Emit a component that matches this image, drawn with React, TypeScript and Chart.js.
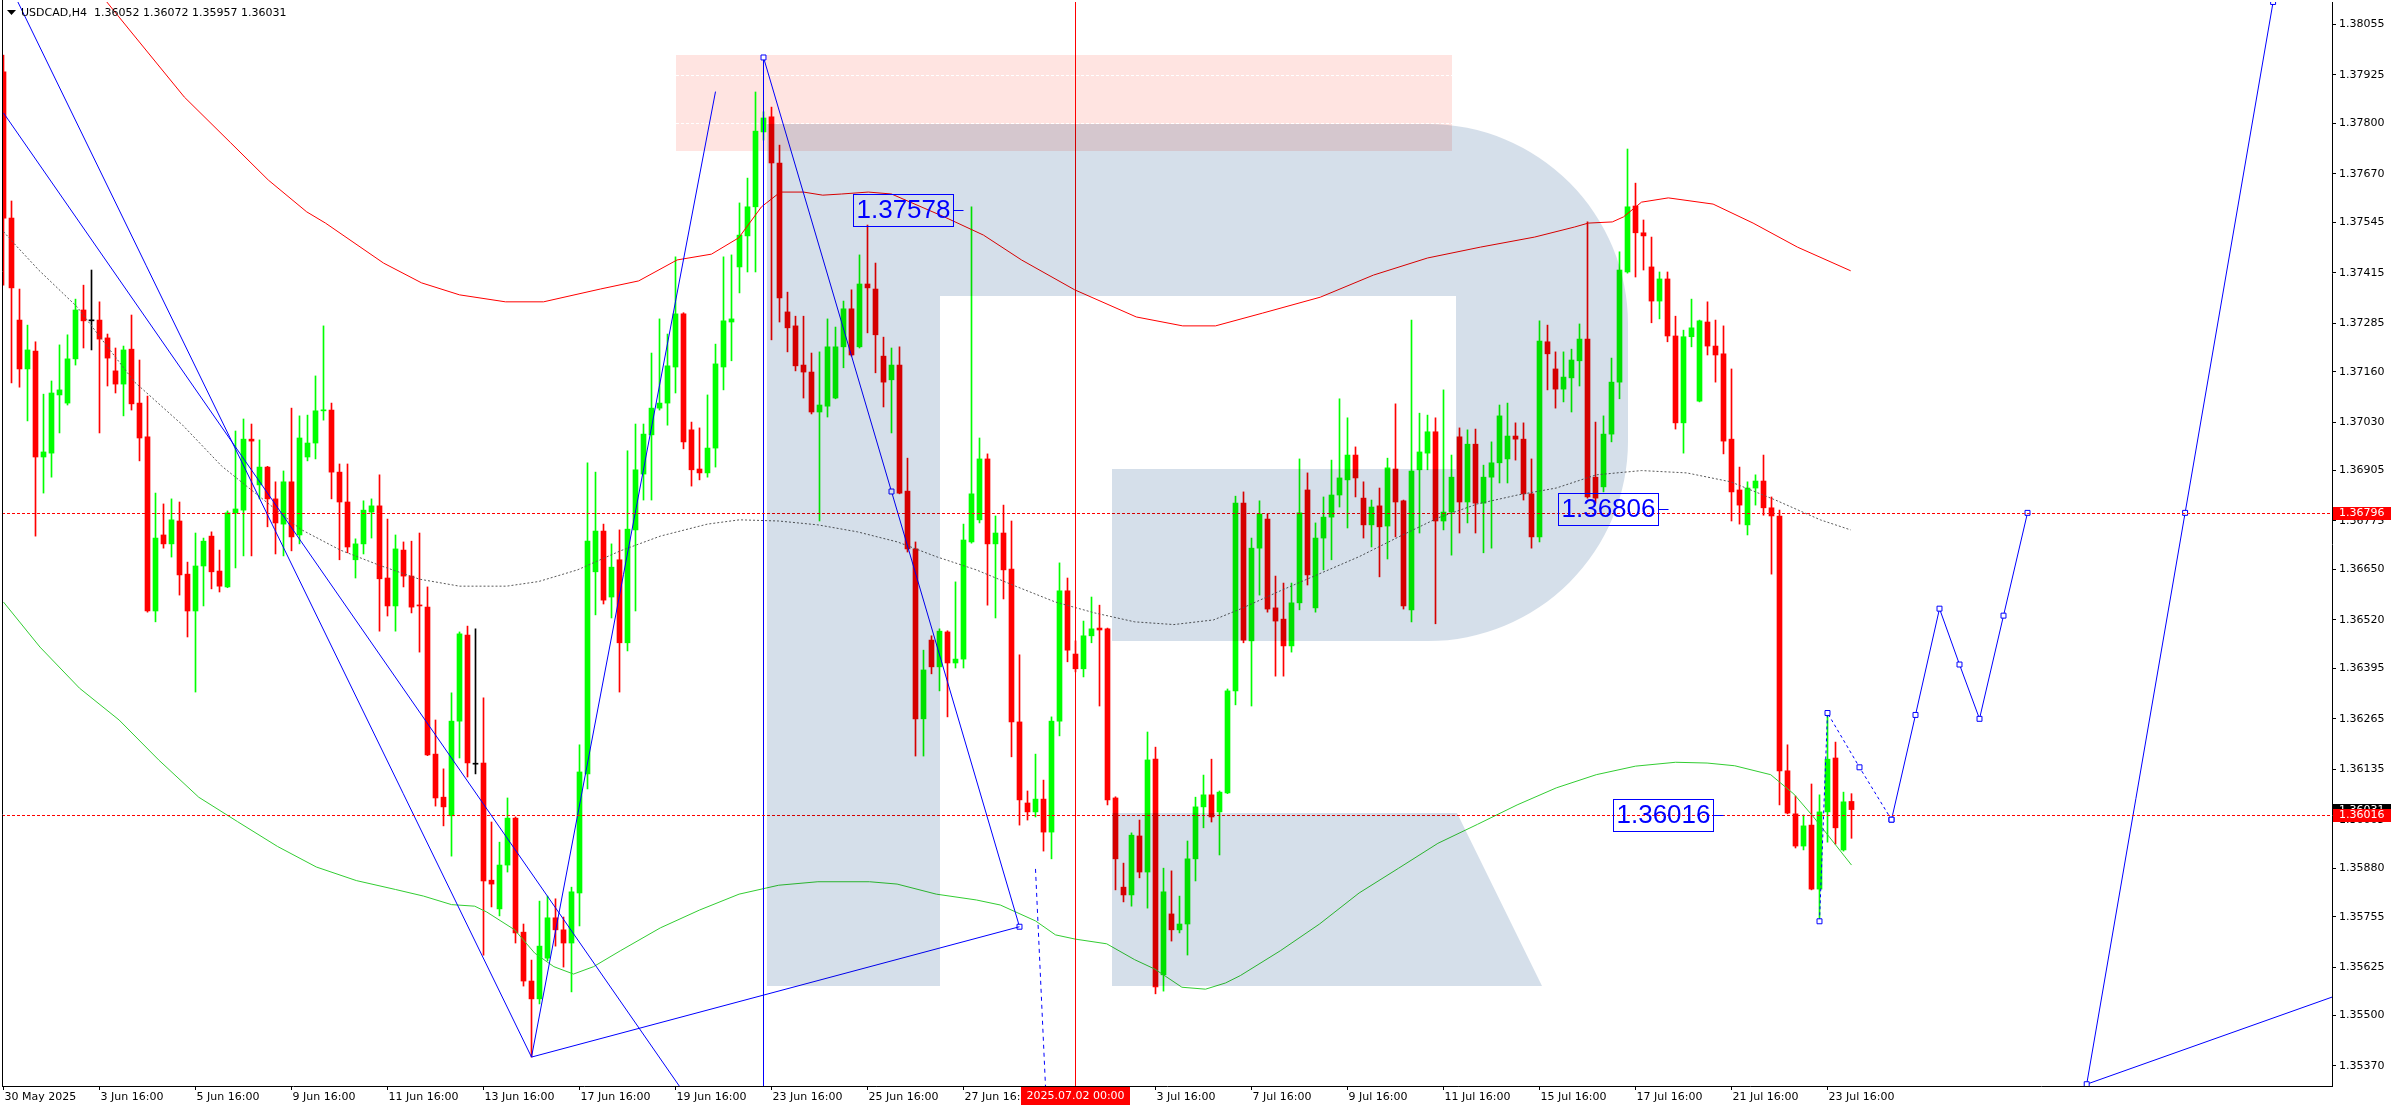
import React, { useEffect, useRef } from "react";
import { Chart, registerables } from "chart.js";

Chart.register(...registerables);

// ---------------- DATA ----------------
const SYMBOL = "USDCAD,H4";

// H4 candles, index 0 = 30 May 2025 16:00
const candleOpen = [
  1.37933, 1.37556, 1.37293, 1.37167, 1.37213, 1.36940, 1.36950, 1.37100, 1.37079, 1.37193,
  1.37319, 1.37291, 1.37293, 1.37247, 1.37162, 1.37128, 1.37218, 1.37079, 1.36992, 1.36543,
  1.36739, 1.36716, 1.36775, 1.36638, 1.36543, 1.36659, 1.36736, 1.36646, 1.36605, 1.36796,
  1.36803, 1.36986, 1.36868, 1.36914, 1.36832, 1.36767, 1.36876, 1.36739, 1.36940, 1.36976,
  1.37059, 1.37061, 1.36901, 1.36824, 1.36675, 1.36716, 1.36798, 1.36814, 1.36628, 1.36556,
  1.36700, 1.36633, 1.36558, 1.36553, 1.36174, 1.36063, 1.36015, 1.36259, 1.36481, 1.36148,
  1.36151, 1.35849, 1.35775, 1.35888, 1.36009, 1.35715, 1.35589, 1.35543, 1.35648, 1.35752,
  1.35721, 1.35687, 1.35816, 1.36123, 1.36644, 1.36749, 1.36579, 1.36675, 1.36461, 1.36752,
  1.36896, 1.36997, 1.37066, 1.37079, 1.37172, 1.37309, 1.37010, 1.36909, 1.36899, 1.36963,
  1.37172, 1.37288, 1.37430, 1.37510, 1.37585, 1.37778, 1.37817, 1.37698, 1.37314, 1.37278,
  1.37177, 1.37159, 1.37056, 1.37071, 1.37092, 1.37224, 1.37322, 1.37224, 1.37386, 1.37373,
  1.37200, 1.37139, 1.37177, 1.36852, 1.36703, 1.36265, 1.36468, 1.36399, 1.36489, 1.36409,
  1.36419, 1.36721, 1.36778, 1.36935, 1.36716, 1.36744, 1.36651, 1.36257, 1.36048, 1.36025,
  1.36058, 1.35973, 1.36259, 1.36595, 1.36432, 1.36394, 1.36479, 1.36499, 1.36497, 1.36061,
  1.35831, 1.35811, 1.35963, 1.35870, 1.36161, 1.35605, 1.35762, 1.35721, 1.35736, 1.35904,
  1.36038, 1.36069, 1.36025, 1.36074, 1.36337, 1.36821, 1.36466, 1.36705, 1.36780, 1.36551,
  1.36522, 1.36453, 1.36564, 1.36855, 1.36551, 1.36731, 1.36785, 1.36842, 1.36881, 1.36945,
  1.36834, 1.36765, 1.36814, 1.36762, 1.36909, 1.36827, 1.36546, 1.36907, 1.36950, 1.37005,
  1.36775, 1.36798, 1.36992, 1.36824, 1.36973, 1.36821, 1.36888, 1.36925, 1.36935, 1.36994,
  1.36986, 1.36845, 1.36734, 1.37237, 1.37167, 1.37115, 1.37144, 1.37188, 1.37244, 1.36888,
  1.36863, 1.36999, 1.37133, 1.37417, 1.37587, 1.37518, 1.37430, 1.37342, 1.37399, 1.37252,
  1.37028, 1.37250, 1.37084, 1.37288, 1.37226, 1.37206, 1.36986, 1.36855, 1.36765, 1.36860,
  1.36878, 1.36809, 1.36788, 1.36131, 1.36020, 1.35937, 1.35991, 1.35826, 1.36025, 1.36164,
  1.35927, 1.36052,
];
const candleHigh = [
  1.37976, 1.37600, 1.37373, 1.37280, 1.37237, 1.37102, 1.37136, 1.37229, 1.37255, 1.37347,
  1.37383, 1.37422, 1.37340, 1.37257, 1.37221, 1.37226, 1.37306, 1.37190, 1.37097, 1.36847,
  1.36819, 1.36832, 1.36824, 1.36669, 1.36744, 1.36731, 1.36747, 1.36700, 1.36801, 1.37007,
  1.37038, 1.37025, 1.36984, 1.36916, 1.36876, 1.36904, 1.37066, 1.37046, 1.37048, 1.37149,
  1.37278, 1.37079, 1.36922, 1.36922, 1.36729, 1.36827, 1.36832, 1.36894, 1.36780, 1.36739,
  1.36721, 1.36723, 1.36744, 1.36605, 1.36262, 1.36136, 1.36332, 1.36489, 1.36504, 1.36497,
  1.36319, 1.35999, 1.35947, 1.36061, 1.36012, 1.35736, 1.35643, 1.35795, 1.35808, 1.35801,
  1.35754, 1.35831, 1.36198, 1.36925, 1.36901, 1.36767, 1.36716, 1.36752, 1.36956, 1.37025,
  1.37025, 1.37208, 1.37296, 1.37257, 1.37456, 1.37312, 1.37030, 1.37015, 1.37100, 1.37231,
  1.37456, 1.37461, 1.37595, 1.37659, 1.37881, 1.37830, 1.37842, 1.37744, 1.37365, 1.37303,
  1.37303, 1.37208, 1.37211, 1.37296, 1.37275, 1.37342, 1.37371, 1.37461, 1.37538, 1.37440,
  1.37249, 1.37221, 1.37224, 1.36937, 1.36721, 1.36442, 1.36479, 1.36497, 1.36492, 1.36618,
  1.36767, 1.37585, 1.36989, 1.36948, 1.36788, 1.36816, 1.36775, 1.36430, 1.36079, 1.36174,
  1.36107, 1.36270, 1.36667, 1.36628, 1.36466, 1.36517, 1.36579, 1.36558, 1.36499, 1.36064,
  1.35893, 1.35971, 1.36004, 1.36231, 1.36192, 1.35880, 1.35873, 1.35808, 1.35950, 1.36063,
  1.36120, 1.36161, 1.36079, 1.36342, 1.36839, 1.36850, 1.36731, 1.36827, 1.36793, 1.36633,
  1.36615, 1.36615, 1.36935, 1.36899, 1.36770, 1.36837, 1.36932, 1.37090, 1.37041, 1.36966,
  1.36876, 1.36829, 1.36860, 1.36937, 1.37077, 1.36829, 1.37293, 1.37053, 1.37048, 1.37041,
  1.37113, 1.36945, 1.37015, 1.37010, 1.37012, 1.36919, 1.36979, 1.37074, 1.37079, 1.37028,
  1.37028, 1.36935, 1.37291, 1.37280, 1.37211, 1.37211, 1.37218, 1.37283, 1.37546, 1.37030,
  1.37046, 1.37195, 1.37469, 1.37734, 1.37646, 1.37551, 1.37507, 1.37417, 1.37417, 1.37303,
  1.37267, 1.37347, 1.37293, 1.37340, 1.37293, 1.37278, 1.37167, 1.36914, 1.36876, 1.36894,
  1.36945, 1.36837, 1.36803, 1.36198, 1.36066, 1.36017, 1.36097, 1.36069, 1.36280, 1.36205,
  1.36076, 1.36072,
];
const candleLow = [
  1.37383, 1.37131, 1.37120, 1.37033, 1.36736, 1.36847, 1.36888, 1.37002, 1.37074, 1.37177,
  1.37221, 1.37216, 1.37002, 1.37123, 1.37105, 1.37046, 1.37061, 1.36930, 1.36540, 1.36515,
  1.36705, 1.36682, 1.36584, 1.36476, 1.36334, 1.36556, 1.36600, 1.36592, 1.36603, 1.36654,
  1.36685, 1.36685, 1.36832, 1.36760, 1.36690, 1.36685, 1.36698, 1.36716, 1.36930, 1.36935,
  1.37035, 1.36832, 1.36675, 1.36693, 1.36628, 1.36690, 1.36731, 1.36491, 1.36530, 1.36491,
  1.36605, 1.36538, 1.36437, 1.36170, 1.36040, 1.35989, 1.35911, 1.36164, 1.36115, 1.36123,
  1.35656, 1.35780, 1.35757, 1.35870, 1.35687, 1.35576, 1.35393, 1.35530, 1.35641, 1.35679,
  1.35625, 1.35561, 1.35731, 1.36084, 1.36533, 1.36561, 1.36525, 1.36334, 1.36440, 1.36543,
  1.36829, 1.36829, 1.37061, 1.37022, 1.37105, 1.36961, 1.36865, 1.36881, 1.36888, 1.36914,
  1.37113, 1.37188, 1.37363, 1.37417, 1.37417, 1.37757, 1.37242, 1.37288, 1.37211, 1.37162,
  1.37092, 1.37051, 1.36775, 1.37043, 1.37090, 1.37170, 1.37200, 1.37221, 1.37260, 1.37157,
  1.37069, 1.37002, 1.36845, 1.36695, 1.36169, 1.36169, 1.36381, 1.36337, 1.36270, 1.36396,
  1.36396, 1.36718, 1.36770, 1.36558, 1.36525, 1.36574, 1.36167, 1.35991, 1.36004, 1.36012,
  1.35924, 1.35904, 1.36221, 1.36412, 1.36386, 1.36373, 1.36461, 1.36298, 1.36043, 1.35824,
  1.35793, 1.35782, 1.35855, 1.35777, 1.35556, 1.35563, 1.35692, 1.35713, 1.35656, 1.35847,
  1.35984, 1.35999, 1.35914, 1.36072, 1.36301, 1.36461, 1.36298, 1.36584, 1.36540, 1.36375,
  1.36375, 1.36437, 1.36546, 1.36610, 1.36540, 1.36649, 1.36675, 1.36811, 1.36757, 1.36837,
  1.36731, 1.36708, 1.36631, 1.36677, 1.36734, 1.36548, 1.36515, 1.36744, 1.36907, 1.36510,
  1.36752, 1.36687, 1.36744, 1.36770, 1.36744, 1.36693, 1.36705, 1.36873, 1.36873, 1.36932,
  1.36829, 1.36705, 1.36721, 1.37113, 1.37066, 1.37082, 1.37056, 1.37123, 1.36834, 1.36821,
  1.36850, 1.36979, 1.37090, 1.37414, 1.37404, 1.37422, 1.37286, 1.37296, 1.37237, 1.37012,
  1.36950, 1.37224, 1.37082, 1.37203, 1.37133, 1.36948, 1.36775, 1.36767, 1.36739, 1.36816,
  1.36790, 1.36638, 1.36043, 1.36020, 1.35932, 1.35927, 1.35824, 1.35749, 1.35947, 1.35942,
  1.35924, 1.35957,
];
const candleClose = [
  1.37556, 1.37376, 1.37167, 1.37216, 1.36940, 1.36953, 1.37105, 1.37113, 1.37193, 1.37319,
  1.37291, 1.37291, 1.37244, 1.37195, 1.37128, 1.37216, 1.37077, 1.36989, 1.36543, 1.36731,
  1.36716, 1.36778, 1.36636, 1.36543, 1.36659, 1.36723, 1.36644, 1.36607, 1.36796, 1.36806,
  1.36986, 1.36981, 1.36914, 1.36832, 1.36770, 1.36876, 1.36734, 1.36989, 1.36976, 1.37059,
  1.37061, 1.36901, 1.36824, 1.36708, 1.36716, 1.36803, 1.36814, 1.36626, 1.36556, 1.36703,
  1.36633, 1.36553, 1.36556, 1.36172, 1.36061, 1.36038, 1.36259, 1.36484, 1.36151, 1.36148,
  1.35847, 1.35839, 1.35888, 1.36009, 1.35713, 1.35589, 1.35543, 1.35679, 1.35752, 1.35721,
  1.35687, 1.35819, 1.36128, 1.36723, 1.36749, 1.36571, 1.36656, 1.36461, 1.36754, 1.36907,
  1.36999, 1.37066, 1.37079, 1.37175, 1.37309, 1.36979, 1.36907, 1.36899, 1.36963, 1.37180,
  1.37291, 1.37296, 1.37512, 1.37585, 1.37780, 1.37814, 1.37698, 1.37350, 1.37273, 1.37175,
  1.37159, 1.37056, 1.37074, 1.37224, 1.37224, 1.37322, 1.37203, 1.37386, 1.37376, 1.37255,
  1.37133, 1.37177, 1.36847, 1.36703, 1.36265, 1.36391, 1.36399, 1.36491, 1.36409, 1.36419,
  1.36726, 1.36845, 1.36935, 1.36716, 1.36744, 1.36649, 1.36257, 1.36056, 1.36025, 1.36058,
  1.35973, 1.36259, 1.36595, 1.36442, 1.36394, 1.36479, 1.36497, 1.36494, 1.36056, 1.35904,
  1.35811, 1.35965, 1.35870, 1.36159, 1.35574, 1.35819, 1.35721, 1.35736, 1.35904, 1.36038,
  1.36069, 1.36012, 1.36076, 1.36337, 1.36821, 1.36468, 1.36705, 1.36793, 1.36548, 1.36517,
  1.36453, 1.36564, 1.36796, 1.36636, 1.36731, 1.36785, 1.36842, 1.36886, 1.36945, 1.36886,
  1.36765, 1.36811, 1.36760, 1.36912, 1.36824, 1.36556, 1.36904, 1.36953, 1.37005, 1.36775,
  1.36798, 1.36888, 1.36824, 1.36973, 1.36821, 1.36888, 1.36925, 1.37046, 1.36994, 1.36986,
  1.36845, 1.36734, 1.37239, 1.37206, 1.37115, 1.37146, 1.37190, 1.37244, 1.36837, 1.36834,
  1.36999, 1.37133, 1.37422, 1.37585, 1.37518, 1.37510, 1.37342, 1.37399, 1.37252, 1.37028,
  1.37250, 1.37273, 1.37291, 1.37226, 1.37203, 1.36981, 1.36850, 1.36816, 1.36860, 1.36878,
  1.36809, 1.36788, 1.36131, 1.36022, 1.35937, 1.35989, 1.35826, 1.36025, 1.36161, 1.35984,
  1.36051, 1.36031,
];

const timeTickIndex = [0, 12, 24, 36, 48, 60, 72, 84, 96, 108, 120, 132, 144, 156, 168, 180, 192, 204, 216, 228];
const timeTickLabels = [
  "30 May 2025", "3 Jun 16:00", "5 Jun 16:00", "9 Jun 16:00", "11 Jun 16:00", "13 Jun 16:00",
  "17 Jun 16:00", "19 Jun 16:00", "23 Jun 16:00", "25 Jun 16:00", "27 Jun 16:00", "1 Jul 16:00",
  "3 Jul 16:00", "7 Jul 16:00", "9 Jul 16:00", "11 Jul 16:00", "15 Jul 16:00", "17 Jul 16:00",
  "21 Jul 16:00", "23 Jul 16:00",
];
const priceTicks = [
  1.38055, 1.37925, 1.378, 1.3767, 1.37545, 1.37415, 1.37285, 1.3716, 1.3703, 1.36905, 1.36775,
  1.3665, 1.3652, 1.36395, 1.36265, 1.36135, 1.36005, 1.3588, 1.35755, 1.35625, 1.355, 1.3537,
];

// indicator bands [candle index, price]
const upperBand = [
  [11.5, 1.38149], [15.75, 1.38041], [22.6, 1.37868], [28.4, 1.3775], [33.1, 1.37654], [37.9, 1.37572],
  [40.25, 1.37543], [47.5, 1.3744], [52.25, 1.37389], [57, 1.37358], [62.75, 1.3734], [67.5, 1.3734],
  [74.6, 1.37373], [79.4, 1.37394], [84.2, 1.37448], [88.5, 1.37463], [91.9, 1.37505], [94.75, 1.37585],
  [97.1, 1.37623], [100, 1.37623], [102.4, 1.37615], [104.75, 1.37618], [108.1, 1.37623], [111, 1.37618],
  [117.6, 1.37559], [122.5, 1.37512], [127.25, 1.37448], [133.9, 1.37371], [141.6, 1.37301], [147.4, 1.37278],
  [151.5, 1.37278], [157.4, 1.37311], [164.6, 1.37352], [171.25, 1.37409], [178, 1.37453], [184.6, 1.37481],
  [191.4, 1.37507], [196.4, 1.37533], [198.1, 1.37543], [201.1, 1.37546], [202.5, 1.37559], [204.75, 1.37597],
  [208.1, 1.37608], [213.7, 1.37592], [218.7, 1.37543], [224.25, 1.37481], [230.9, 1.3742],
];
const middleBand = [
  [0, 1.37521], [1.25, 1.37492], [4.4, 1.37422], [9.2, 1.37327], [13, 1.37224], [16.4, 1.37133],
  [22.4, 1.37022], [27.25, 1.36917], [32.25, 1.36834], [37.2, 1.36753], [42.1, 1.367], [47.1, 1.3666],
  [52, 1.36625], [57, 1.36607], [62.9, 1.36607], [66.9, 1.36619], [71.75, 1.36649], [77.1, 1.36698],
  [82.1, 1.36736], [88, 1.36767], [92, 1.36778], [96.9, 1.36775], [101.8, 1.36765], [106.75, 1.36747],
  [111.75, 1.36721], [116.6, 1.36683], [121.6, 1.36649], [126.5, 1.36607], [131.5, 1.36566], [136.4, 1.36538],
  [141.4, 1.36515], [146.3, 1.36508], [151.25, 1.3652], [154.6, 1.36548], [159.6, 1.36595], [164.5, 1.36639],
  [169.45, 1.36683], [174.4, 1.36734], [179.3, 1.36783], [184.25, 1.36819], [189.25, 1.36842], [194.1, 1.3686],
  [199.1, 1.36894], [204.75, 1.36905], [210.4, 1.36899], [215.9, 1.36876], [221.5, 1.36829], [227.1, 1.36778],
  [230.9, 1.36752],
];
const lowerBand = [
  [0, 1.36566], [4.56, 1.3645], [9.5, 1.36344], [14.45, 1.36262], [19.4, 1.36159], [24.4, 1.36063],
  [29.25, 1.36], [34.25, 1.35936], [39.1, 1.35883], [44.1, 1.35848], [49, 1.35825], [52.5, 1.35808],
  [56, 1.35786], [58.9, 1.35782], [60.4, 1.35767], [63.9, 1.35721], [66.4, 1.35661], [68.8, 1.35626],
  [71.25, 1.35607], [73.75, 1.35626], [77.1, 1.35667], [82.1, 1.35726], [87, 1.35772], [91.95, 1.35813],
  [96.9, 1.35836], [101.8, 1.35845], [108.25, 1.35845], [111.7, 1.35839], [116.6, 1.35813], [121.6, 1.35798],
  [124.6, 1.35785], [129, 1.35744], [131.5, 1.35708], [134, 1.35697], [137.9, 1.35685], [141.4, 1.35644],
  [143.9, 1.3562], [147.3, 1.35573], [150.25, 1.35568], [152.75, 1.35584], [154.6, 1.35603], [159.6, 1.35667],
  [164.5, 1.35736], [169.45, 1.35816], [174.4, 1.3588], [179.3, 1.35944], [184.25, 1.35993], [189.2, 1.36043],
  [194.1, 1.36087], [199.1, 1.36121], [204, 1.36143], [209, 1.36153], [212.95, 1.36151], [216.4, 1.36144],
  [220.9, 1.36121], [223.8, 1.36071], [226.25, 1.36012], [231, 1.35888],
];

// drawn objects
const levelLines = [1.36796, 1.36016];
const markerTime = { index: 134, label: "2025.07.02 00:00" };
const zoneBox = [84, 181, 1.37729, 1.37976]; // index from, index to, price low, price high
const trendA = [[1.8, 1.38113], [66, 1.35393]];
const trendB = [[0, 1.37827], [86, 1.35273]];
const trendC = [[66, 1.35393], [89, 1.37882]];
const trendD = [[66, 1.35393], [127, 1.35729]];
const waveDown = [[95, 1.3797], [111, 1.36851], [127, 1.35729]];
const peakVertical = [[95, 1.3797], [95, 1.3525]];
const dashedDrop = [[129, 1.35878], [130.4, 1.3525]];
const forecastDotted = [[227, 1.35743], [228, 1.3628], [232, 1.3614], [236, 1.36005]];
const forecastPath = [[236, 1.36005], [239, 1.36275], [242, 1.36549], [244.5, 1.36405], [247, 1.36265], [250, 1.36531], [253, 1.36796]];
const targetRay = [[260.4, 1.35323], [272.7, 1.36796], [283.7, 1.38113]];
const baseRay = [[260.4, 1.35323], [300, 1.35613]];
const priceNotes = [
  { text: "1.37578", index: 106.2, price: 1.37578 },
  { text: "1.36806", index: 194.3, price: 1.36806 },
  { text: "1.36016", index: 201.2, price: 1.36016 },
];

// ---------------- STYLE ----------------
const BULL = "#00ff00";
const BEAR = "#ff0000";
const DOJI = "#000000";
const BLUE = "#0000ff";
const LOGO = "#d5dfea";
const FONT = "'DejaVu Sans', 'Liberation Sans', sans-serif";
const X_MIN = -0.1875;
const X_MAX = 291.0625;
const Y_MIN = 1.353184;
const Y_MAX = 1.38113;

function candleColor(i: number) {
  const o = candleOpen[i];
  const c = candleClose[i];
  return c > o ? BULL : c < o ? BEAR : DOJI;
}

const toPts = (arr: number[][]) => arr.map(([x, y]) => ({ x, y }));

function lineDs(points: number[][], color: string, order: number, extra: any = {}) {
  return {
    type: "line",
    data: toPts(points),
    borderColor: color,
    borderWidth: 1,
    pointRadius: 0,
    pointHoverRadius: 0,
    fill: false,
    tension: 0,
    order,
    ...extra,
  };
}

const squares = {
  pointRadius: 3.5,
  pointStyle: "rect",
  pointBackgroundColor: "#ffffff",
  pointBorderColor: BLUE,
  pointBorderWidth: 1,
};

function drawLogo(ctx: CanvasRenderingContext2D) {
  ctx.beginPath();
  ctx.moveTo(767, 124);
  ctx.lineTo(1428, 124);
  ctx.arc(1428, 324, 200, -Math.PI / 2, 0);
  ctx.lineTo(1628, 441);
  ctx.arc(1428, 441, 200, 0, Math.PI / 2);
  ctx.lineTo(1112, 641);
  ctx.lineTo(1112, 469);
  ctx.lineTo(1456, 469);
  ctx.lineTo(1456, 296);
  ctx.lineTo(940, 296);
  ctx.lineTo(940, 986);
  ctx.lineTo(767, 986);
  ctx.closePath();
  ctx.moveTo(1112, 813);
  ctx.lineTo(1457, 813);
  ctx.lineTo(1542, 986);
  ctx.lineTo(1112, 986);
  ctx.closePath();
  ctx.fill();
}

const decorPlugin = {
  id: "mt4Decor",
  beforeDraw(chart: any) {
    const { ctx, width, height } = chart;
    ctx.save();
    ctx.fillStyle = "#ffffff";
    ctx.fillRect(0, 0, width, height);
    ctx.restore();
  },
  beforeDatasetsDraw(chart: any) {
    const { ctx, chartArea: a, scales } = chart;
    const xs = scales.x;
    const ys = scales.y;
    ctx.save();
    ctx.beginPath();
    ctx.rect(a.left, a.top, a.right - a.left, a.bottom - a.top);
    ctx.clip();
    const zx0 = Math.round(xs.getPixelForValue(zoneBox[0]));
    const zx1 = Math.round(xs.getPixelForValue(zoneBox[1]));
    const zy0 = Math.round(ys.getPixelForValue(zoneBox[3]));
    const zy1 = Math.round(ys.getPixelForValue(zoneBox[2]));
    ctx.fillStyle = "#ffe4e1";
    ctx.fillRect(zx0, zy0, zx1 - zx0, zy1 - zy0);
    ctx.strokeStyle = "#ffffff";
    ctx.lineWidth = 1;
    ctx.setLineDash([3, 2]);
    for (const t of priceTicks) {
      const py = Math.round(ys.getPixelForValue(t)) + 0.5;
      if (py > zy0 && py < zy1) {
        ctx.beginPath();
        ctx.moveTo(zx0, py);
        ctx.lineTo(zx1, py);
        ctx.stroke();
      }
    }
    ctx.restore();
  },
  afterDatasetsDraw(chart: any) {
    const { ctx, chartArea: a, scales } = chart;
    const xs = scales.x;
    const ys = scales.y;
    ctx.save();
    ctx.beginPath();
    ctx.rect(a.left, a.top, a.right - a.left, a.bottom - a.top);
    ctx.clip();
    // horizontal price levels (crisp, dashed)
    ctx.strokeStyle = "#ff0000";
    ctx.lineWidth = 1;
    ctx.setLineDash([3, 2]);
    for (const v of levelLines) {
      const py = Math.round(ys.getPixelForValue(v)) + 0.5;
      ctx.beginPath();
      ctx.moveTo(a.left, py);
      ctx.lineTo(a.right, py);
      ctx.stroke();
    }
    ctx.setLineDash([]);
    // watermark
    ctx.globalCompositeOperation = "multiply";
    ctx.fillStyle = LOGO;
    drawLogo(ctx);
    ctx.restore();

    ctx.save();
    for (const n of priceNotes) {
      const bx = Math.round(xs.getPixelForValue(n.index)) + 0.5;
      const cy = Math.round(ys.getPixelForValue(n.price));
      const w = 100;
      const h = 32;
      ctx.strokeStyle = BLUE;
      ctx.lineWidth = 1;
      ctx.strokeRect(bx, cy - 16 + 0.5, w, h);
      ctx.beginPath();
      ctx.moveTo(bx + w, cy + 0.5);
      ctx.lineTo(bx + w + 10, cy + 0.5);
      ctx.stroke();
      ctx.fillStyle = BLUE;
      ctx.font = "26px 'Liberation Sans', sans-serif";
      ctx.textAlign = "center";
      ctx.textBaseline = "middle";
      ctx.fillText(n.text, bx + w / 2, cy + 1);
    }
    ctx.restore();
  },
  afterDraw(chart: any) {
    const { ctx, chartArea: a, scales } = chart;
    const xs = scales.x;
    const ys = scales.y;
    const last = candleOpen.length - 1;
    ctx.save();
    ctx.strokeStyle = "#000";
    ctx.lineWidth = 1;
    ctx.beginPath();
    ctx.moveTo(a.left + 0.5, 0);
    ctx.lineTo(a.left + 0.5, a.bottom);
    ctx.stroke();

    // header
    ctx.fillStyle = "#000";
    ctx.beginPath();
    ctx.moveTo(7, 10);
    ctx.lineTo(16, 10);
    ctx.lineTo(11.5, 15);
    ctx.closePath();
    ctx.fill();
    ctx.font = `11px ${FONT}`;
    ctx.textAlign = "left";
    ctx.textBaseline = "middle";
    ctx.fillText(
      `${SYMBOL}  ${candleOpen[last].toFixed(5)} ${candleHigh[last].toFixed(5)} ${candleLow[last].toFixed(5)} ${candleClose[last].toFixed(5)}`,
      21,
      13
    );

    // price tags
    const tag = (v: number, bg: string) => {
      const py = Math.round(ys.getPixelForValue(v));
      ctx.fillStyle = bg;
      ctx.fillRect(a.right + 1, py - 6, 58, 13);
      ctx.fillStyle = "#fff";
      ctx.fillText(v.toFixed(5), a.right + 7, py + 0.5);
    };
    tag(candleClose[last], "#000");
    for (const v of levelLines) tag(v, "#ff0000");

    // time tag
    const cx = xs.getPixelForValue(markerTime.index);
    ctx.fillStyle = "#ff0000";
    ctx.fillRect(Math.round(cx - 54.5), a.bottom + 1, 109, 18);
    ctx.fillStyle = "#fff";
    ctx.textAlign = "center";
    ctx.fillText(markerTime.label, cx, a.bottom + 10.5);
    ctx.restore();
  },
};

export default function App() {
  const ref = useRef<HTMLCanvasElement>(null);

  useEffect(() => {
    document.body.style.margin = "0";
    document.body.style.overflow = "hidden";
    const canvas = ref.current;
    if (!canvas) return;
    const n = candleOpen.length;
    const idx = Array.from({ length: n }, (_, i) => i);
    const bodies = idx.map((i) => ({ x: i, y: [candleOpen[i], candleClose[i]] }));
    const wicks = idx.map((i) => ({ x: i, y: [candleLow[i], candleHigh[i]] }));
    const colors = idx.map(candleColor);

    const datasets: any[] = [
      lineDs(trendA, BLUE, 0),
      lineDs(trendB, BLUE, 0),
      lineDs(trendC, BLUE, 0),
      lineDs(trendD, BLUE, 0),
      lineDs(waveDown, BLUE, 0, squares),
      lineDs(peakVertical, BLUE, 0),
      lineDs(dashedDrop, BLUE, 0, { borderDash: [4, 4] }),
      lineDs(forecastDotted, BLUE, 0, { ...squares, borderDash: [3, 3] }),
      lineDs(forecastPath, BLUE, 0, squares),
      lineDs(targetRay, BLUE, 0, squares),
      lineDs(baseRay, BLUE, 0),
      lineDs([[markerTime.index, Y_MAX + 0.001], [markerTime.index, Y_MIN - 0.001]], "#ff0000", 1),
      lineDs(upperBand, "#ff0000", 2),
      lineDs(middleBand, "#5a5a5a", 2, { borderDash: [2, 2] }),
      lineDs(lowerBand, "#32cd32", 2),
      {
        type: "bar",
        data: bodies,
        backgroundColor: colors,
        borderWidth: 0,
        barThickness: 5,
        minBarLength: 1,
        grouped: false,
        order: 3,
      },
      {
        type: "bar",
        data: wicks,
        backgroundColor: colors,
        borderWidth: 0,
        barThickness: 1,
        grouped: false,
        order: 4,
      },
    ];

    const tickFont = { family: FONT, size: 11 };

    const chart = new Chart(canvas, {
      type: "bar",
      data: { datasets },
      options: {
        responsive: false,
        animation: false,
        devicePixelRatio: 1,
        events: [],
        layout: { autoPadding: false, padding: { left: 2, top: 2, right: 0, bottom: 0 } },
        plugins: { legend: { display: false }, tooltip: { enabled: false } },
        scales: {
          x: {
            type: "linear",
            min: X_MIN,
            max: X_MAX,
            offset: false,
            bounds: "data",
            afterBuildTicks: (s: any) => {
              s.ticks = timeTickIndex.map((v) => ({ value: v }));
            },
            afterFit: (s: any) => {
              s.height = 24;
              s.paddingLeft = 0;
              s.paddingRight = 0;
              s.paddingTop = 0;
              s.paddingBottom = 0;
            },
            ticks: {
              autoSkip: false,
              maxRotation: 0,
              minRotation: 0,
              align: "start",
              padding: 1,
              labelOffset: 1,
              color: "#000",
              font: tickFont,
              callback: (_v: any, i: number) => timeTickLabels[i] ?? "",
            },
            grid: { display: true, drawOnChartArea: false, drawTicks: true, tickLength: 4, color: "#000", offset: false },
            border: { display: true, color: "#000", width: 1 },
          },
          y: {
            type: "linear",
            position: "right",
            min: Y_MIN,
            max: Y_MAX,
            bounds: "data",
            afterBuildTicks: (s: any) => {
              s.ticks = priceTicks.map((v) => ({ value: v }));
            },
            afterFit: (s: any) => {
              s.width = 64;
              s.paddingTop = 0;
              s.paddingBottom = 0;
              s.paddingLeft = 0;
              s.paddingRight = 0;
            },
            ticks: {
              autoSkip: false,
              padding: 3,
              color: "#000",
              font: tickFont,
              callback: (v: any) => Number(v).toFixed(5),
            },
            grid: { display: true, drawOnChartArea: false, drawTicks: true, tickLength: 4, color: "#000" },
            border: { display: true, color: "#000", width: 1 },
          },
        },
      } as any,
      plugins: [decorPlugin],
    } as any);

    return () => chart.destroy();
  }, []);

  return (
    <div style={{ position: "absolute", left: 0, top: 0, width: 2396, height: 1110, background: "#fff" }}>
      <canvas ref={ref} width={2396} height={1110} style={{ display: "block", width: 2396, height: 1110 }} />
    </div>
  );
}
